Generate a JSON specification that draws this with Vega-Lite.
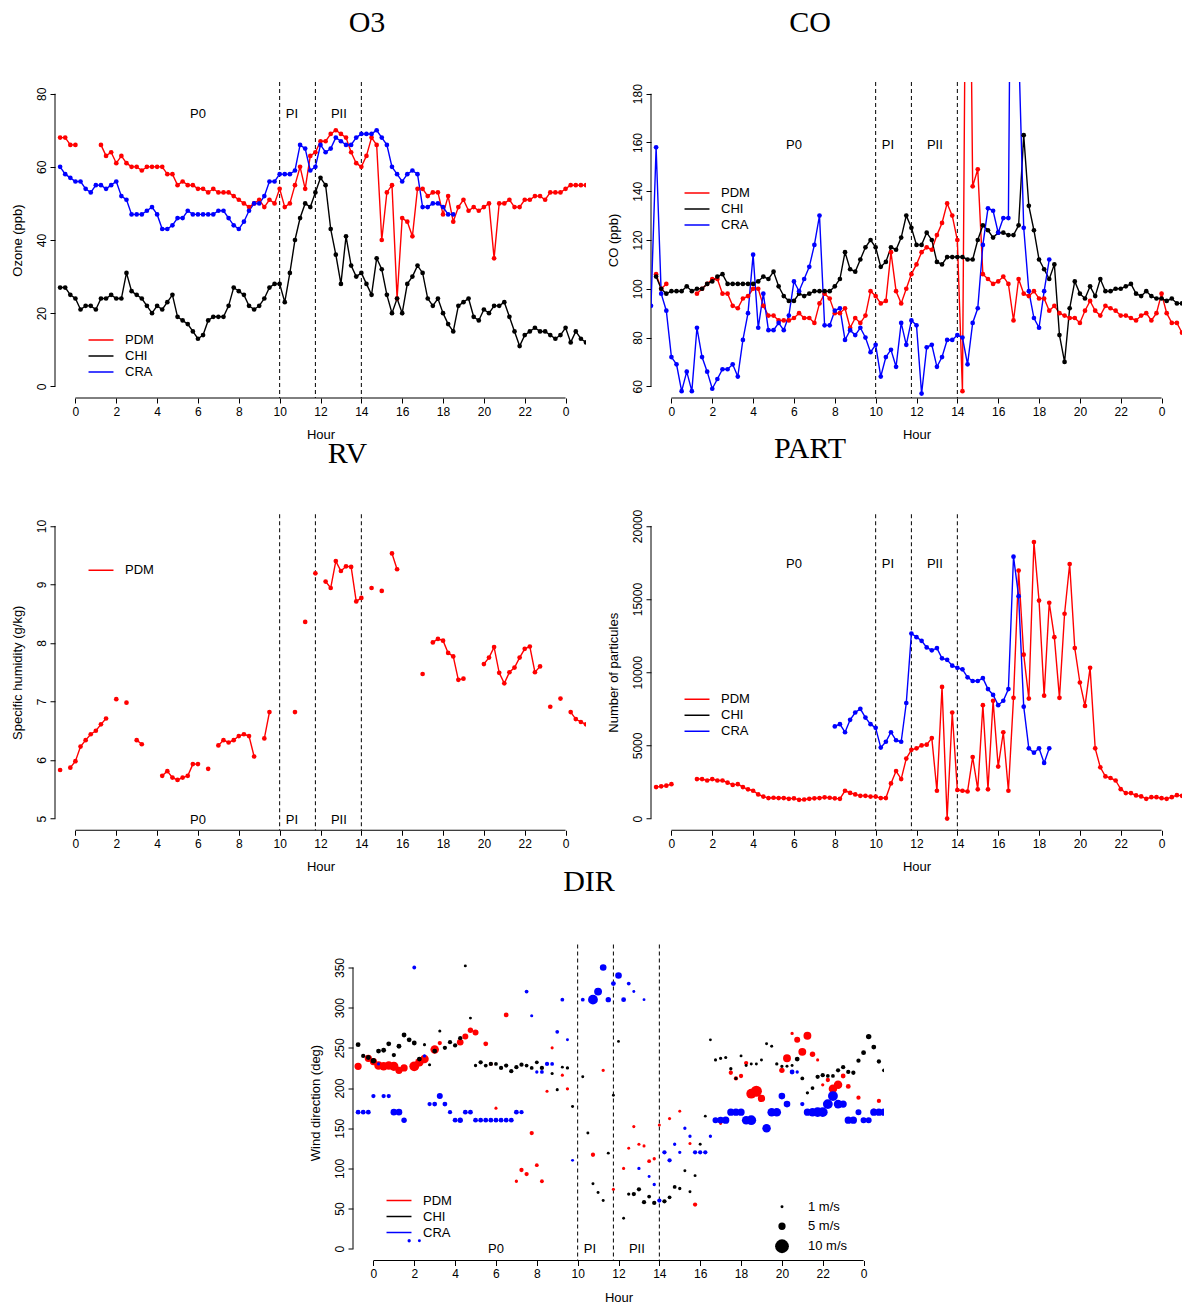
{
"$schema": "https://vega.github.io/schema/vega-lite/v6.json",
"background": "white",
"padding": {"left": 11, "top": 7, "right": 0, "bottom": 0},
"config": {
  "view": {"stroke": null},
  "font": "Liberation Sans",
  "mark": {"invalid": "break-paths-filter-domains"},
  "axis": {"grid": false, "domain": false, "tickColor": "#000", "tickSize": 5, "tickWidth": 1, "labelFont": "Liberation Sans", "labelFontSize": 12, "labelColor": "#000", "titleFont": "Liberation Sans", "titleFontSize": 13, "titleFontWeight": "normal", "titleColor": "#000", "labelFlush": false, "labelOverlap": false},
  "axisX": {"labelPadding": 3, "titleY": 40.5, "titleBaseline": "alphabetic"},
  "axisY": {"labelAngle": 270, "labelAlign": "center", "labelBaseline": "alphabetic", "labelPadding": 4.5, "titleX": -33.5, "titleBaseline": "alphabetic", "titleAngle": 270},
  "legend": {"orient": "none", "padding": 0, "labelFont": "Liberation Sans", "labelFontSize": 13, "labelColor": "#000", "symbolType": "M-1.56,0H1.56", "symbolSize": 256, "symbolStrokeWidth": 1.5, "labelOffset": 15, "rowPadding": 0, "symbolOpacity": 1},
  "title": {"font": "Liberation Serif", "fontSize": 30, "fontWeight": "normal", "frame": "group", "anchor": "middle", "baseline": "alphabetic", "color": "#000"},
  "text": {"font": "Liberation Sans", "fontSize": 13, "color": "#000"}
},
"datasets": {
  "per": [{"h": 10}, {"h": 11.75}, {"h": 14}],
  "lab": [{"h": 6, "t": "P0"}, {"h": 10.6, "t": "PI"}, {"h": 12.9, "t": "PII"}],
  "o3": [
{"h":-0.75,"PDM":68,"CHI":27,"CRA":60},{"h":-0.5,"PDM":68,"CHI":27,"CRA":58},{"h":-0.25,"PDM":66,"CHI":25,"CRA":57},{"h":0,"PDM":66,"CHI":24,"CRA":56},
{"h":0.25,"PDM":null,"CHI":21,"CRA":56},{"h":0.5,"PDM":null,"CHI":22,"CRA":54},{"h":0.75,"PDM":null,"CHI":22,"CRA":53},{"h":1,"PDM":null,"CHI":21,"CRA":55},
{"h":1.25,"PDM":66,"CHI":24,"CRA":55},{"h":1.5,"PDM":63,"CHI":24,"CRA":54},{"h":1.75,"PDM":64,"CHI":25,"CRA":55},{"h":2,"PDM":61,"CHI":24,"CRA":56},
{"h":2.25,"PDM":63,"CHI":24,"CRA":52},{"h":2.5,"PDM":61,"CHI":31,"CRA":51},{"h":2.75,"PDM":60,"CHI":26,"CRA":47},{"h":3,"PDM":60,"CHI":25,"CRA":47},
{"h":3.25,"PDM":59,"CHI":24,"CRA":47},{"h":3.5,"PDM":60,"CHI":22,"CRA":48},{"h":3.75,"PDM":60,"CHI":20,"CRA":49},{"h":4,"PDM":60,"CHI":22,"CRA":47},
{"h":4.25,"PDM":60,"CHI":21,"CRA":43},{"h":4.5,"PDM":58,"CHI":23,"CRA":43},{"h":4.75,"PDM":58,"CHI":25,"CRA":44},{"h":5,"PDM":55,"CHI":19,"CRA":46},
{"h":5.25,"PDM":56,"CHI":18,"CRA":46},{"h":5.5,"PDM":55,"CHI":17,"CRA":48},{"h":5.75,"PDM":55,"CHI":15,"CRA":47},{"h":6,"PDM":54,"CHI":13,"CRA":47},
{"h":6.25,"PDM":54,"CHI":14,"CRA":47},{"h":6.5,"PDM":53,"CHI":18,"CRA":47},{"h":6.75,"PDM":54,"CHI":19,"CRA":47},{"h":7,"PDM":53,"CHI":19,"CRA":48},
{"h":7.25,"PDM":53,"CHI":19,"CRA":48},{"h":7.5,"PDM":53,"CHI":22,"CRA":46},{"h":7.75,"PDM":52,"CHI":27,"CRA":44},{"h":8,"PDM":51,"CHI":26,"CRA":43},
{"h":8.25,"PDM":50,"CHI":25,"CRA":45},{"h":8.5,"PDM":49,"CHI":22,"CRA":48},{"h":8.75,"PDM":50,"CHI":21,"CRA":50},{"h":9,"PDM":51,"CHI":22,"CRA":50},
{"h":9.25,"PDM":49,"CHI":24,"CRA":52},{"h":9.5,"PDM":51,"CHI":27,"CRA":56},{"h":9.75,"PDM":50,"CHI":28,"CRA":56},{"h":10,"PDM":54,"CHI":28,"CRA":58},
{"h":10.25,"PDM":49,"CHI":23,"CRA":58},{"h":10.5,"PDM":50,"CHI":31,"CRA":58},{"h":10.75,"PDM":55,"CHI":40,"CRA":59},{"h":11,"PDM":60,"CHI":46,"CRA":66},
{"h":11.25,"PDM":54,"CHI":50,"CRA":65},{"h":11.5,"PDM":63,"CHI":49,"CRA":59},{"h":11.75,"PDM":64,"CHI":53,"CRA":60},{"h":12,"PDM":67,"CHI":57,"CRA":66},
{"h":12.25,"PDM":67,"CHI":55,"CRA":64},{"h":12.5,"PDM":69,"CHI":43,"CRA":65},{"h":12.75,"PDM":70,"CHI":36,"CRA":68},{"h":13,"PDM":69,"CHI":28,"CRA":67},
{"h":13.25,"PDM":68,"CHI":41,"CRA":66},{"h":13.5,"PDM":64,"CHI":33,"CRA":66},{"h":13.75,"PDM":61,"CHI":30,"CRA":68},{"h":14,"PDM":60,"CHI":31,"CRA":69},
{"h":14.25,"PDM":63,"CHI":28,"CRA":69},{"h":14.5,"PDM":68,"CHI":25,"CRA":69},{"h":14.75,"PDM":66,"CHI":35,"CRA":70},{"h":15,"PDM":40,"CHI":32,"CRA":68},
{"h":15.25,"PDM":53,"CHI":25,"CRA":66},{"h":15.5,"PDM":55,"CHI":20,"CRA":60},{"h":15.75,"PDM":24,"CHI":24,"CRA":58},{"h":16,"PDM":46,"CHI":20,"CRA":56},
{"h":16.25,"PDM":45,"CHI":28,"CRA":58},{"h":16.5,"PDM":41,"CHI":30,"CRA":59},{"h":16.75,"PDM":54,"CHI":33,"CRA":58},{"h":17,"PDM":54,"CHI":31,"CRA":49},
{"h":17.25,"PDM":52,"CHI":24,"CRA":49},{"h":17.5,"PDM":53,"CHI":22,"CRA":50},{"h":17.75,"PDM":53,"CHI":24,"CRA":50},{"h":18,"PDM":47,"CHI":20,"CRA":49},
{"h":18.25,"PDM":52,"CHI":17,"CRA":47},{"h":18.5,"PDM":45,"CHI":15,"CRA":47},{"h":18.75,"PDM":49,"CHI":22,"CRA":null},{"h":19,"PDM":51,"CHI":23,"CRA":null},
{"h":19.25,"PDM":48,"CHI":24,"CRA":null},{"h":19.5,"PDM":49,"CHI":19,"CRA":null},{"h":19.75,"PDM":48,"CHI":18,"CRA":null},{"h":20,"PDM":49,"CHI":21,"CRA":null},
{"h":20.25,"PDM":50,"CHI":20,"CRA":null},{"h":20.5,"PDM":35,"CHI":22,"CRA":null},{"h":20.75,"PDM":50,"CHI":22,"CRA":null},{"h":21,"PDM":50,"CHI":23,"CRA":null},
{"h":21.25,"PDM":51,"CHI":19,"CRA":null},{"h":21.5,"PDM":49,"CHI":15,"CRA":null},{"h":21.75,"PDM":49,"CHI":11,"CRA":null},{"h":22,"PDM":51,"CHI":14,"CRA":null},
{"h":22.25,"PDM":51,"CHI":15,"CRA":null},{"h":22.5,"PDM":52,"CHI":16,"CRA":null},{"h":22.75,"PDM":52,"CHI":15,"CRA":null},{"h":23,"PDM":51,"CHI":15,"CRA":null},
{"h":23.25,"PDM":53,"CHI":14,"CRA":null},{"h":23.5,"PDM":53,"CHI":13,"CRA":null},{"h":23.75,"PDM":53,"CHI":14,"CRA":null},{"h":24,"PDM":54,"CHI":16,"CRA":null},
{"h":24.25,"PDM":55,"CHI":12,"CRA":null},{"h":24.5,"PDM":55,"CHI":15,"CRA":null},{"h":24.75,"PDM":55,"CHI":13,"CRA":null},{"h":25,"PDM":55,"CHI":12,"CRA":null}
  ],
  "co": [
{"h":-1,"PDM":null,"CHI":null,"CRA":93},{"h":-0.75,"PDM":106,"CHI":105,"CRA":158},{"h":-0.5,"PDM":100,"CHI":100,"CRA":98},{"h":-0.25,"PDM":102,"CHI":98,"CRA":91},
{"h":0,"PDM":null,"CHI":99,"CRA":72},{"h":0.25,"PDM":null,"CHI":99,"CRA":69},{"h":0.5,"PDM":null,"CHI":99,"CRA":58},{"h":0.75,"PDM":null,"CHI":101,"CRA":66},
{"h":1,"PDM":null,"CHI":99,"CRA":58},{"h":1.25,"PDM":98,"CHI":100,"CRA":84},{"h":1.5,"PDM":100,"CHI":100,"CRA":72},{"h":1.75,"PDM":102,"CHI":102,"CRA":66},
{"h":2,"PDM":104,"CHI":103,"CRA":59},{"h":2.25,"PDM":104,"CHI":105,"CRA":63},{"h":2.5,"PDM":98,"CHI":106,"CRA":67},{"h":2.75,"PDM":98,"CHI":102,"CRA":67},
{"h":3,"PDM":93,"CHI":102,"CRA":69},{"h":3.25,"PDM":92,"CHI":102,"CRA":64},{"h":3.5,"PDM":96,"CHI":102,"CRA":79},{"h":3.75,"PDM":97,"CHI":102,"CRA":90},
{"h":4,"PDM":100,"CHI":102,"CRA":114},{"h":4.25,"PDM":100,"CHI":103,"CRA":84},{"h":4.5,"PDM":93,"CHI":105,"CRA":98},{"h":4.75,"PDM":89,"CHI":104,"CRA":83},
{"h":5,"PDM":89,"CHI":107,"CRA":83},{"h":5.25,"PDM":87,"CHI":101,"CRA":86},{"h":5.5,"PDM":87,"CHI":97,"CRA":83},{"h":5.75,"PDM":87,"CHI":95,"CRA":89},
{"h":6,"PDM":88,"CHI":95,"CRA":103},{"h":6.25,"PDM":90,"CHI":98,"CRA":99},{"h":6.5,"PDM":88,"CHI":97,"CRA":104},{"h":6.75,"PDM":88,"CHI":98,"CRA":109},
{"h":7,"PDM":86,"CHI":99,"CRA":118},{"h":7.25,"PDM":94,"CHI":99,"CRA":130},{"h":7.5,"PDM":98,"CHI":99,"CRA":85},{"h":7.75,"PDM":96,"CHI":99,"CRA":85},
{"h":8,"PDM":90,"CHI":101,"CRA":91},{"h":8.25,"PDM":90,"CHI":104,"CRA":92},{"h":8.5,"PDM":92,"CHI":115,"CRA":79},{"h":8.75,"PDM":84,"CHI":108,"CRA":83},
{"h":9,"PDM":88,"CHI":107,"CRA":81},{"h":9.25,"PDM":86,"CHI":112,"CRA":84},{"h":9.5,"PDM":89,"CHI":117,"CRA":80},{"h":9.75,"PDM":99,"CHI":120,"CRA":74},
{"h":10,"PDM":97,"CHI":117,"CRA":77},{"h":10.25,"PDM":94,"CHI":109,"CRA":64},{"h":10.5,"PDM":95,"CHI":111,"CRA":72},{"h":10.75,"PDM":115,"CHI":117,"CRA":75},
{"h":11,"PDM":99,"CHI":116,"CRA":68},{"h":11.25,"PDM":94,"CHI":121,"CRA":86},{"h":11.5,"PDM":100,"CHI":130,"CRA":77},{"h":11.75,"PDM":106,"CHI":125,"CRA":87},
{"h":12,"PDM":110,"CHI":118,"CRA":85},{"h":12.25,"PDM":115,"CHI":118,"CRA":57},{"h":12.5,"PDM":117,"CHI":123,"CRA":76},{"h":12.75,"PDM":116,"CHI":120,"CRA":77},
{"h":13,"PDM":122,"CHI":111,"CRA":68},{"h":13.25,"PDM":127,"CHI":110,"CRA":72},{"h":13.5,"PDM":135,"CHI":113,"CRA":79},{"h":13.75,"PDM":130,"CHI":113,"CRA":79},
{"h":14,"PDM":120,"CHI":113,"CRA":81},{"h":14.25,"PDM":58,"CHI":113,"CRA":80},{"h":14.5,"PDM":350,"CHI":112,"CRA":69},{"h":14.75,"PDM":142,"CHI":112,"CRA":86},
{"h":15,"PDM":149,"CHI":120,"CRA":92},{"h":15.25,"PDM":106,"CHI":126,"CRA":118},{"h":15.5,"PDM":104,"CHI":124,"CRA":133},{"h":15.75,"PDM":102,"CHI":121,"CRA":132},
{"h":16,"PDM":103,"CHI":123,"CRA":123},{"h":16.25,"PDM":105,"CHI":123,"CRA":129},{"h":16.5,"PDM":102,"CHI":122,"CRA":129},{"h":16.75,"PDM":87,"CHI":122,"CRA":400},
{"h":17,"PDM":104,"CHI":126,"CRA":200},{"h":17.25,"PDM":98,"CHI":163,"CRA":125},{"h":17.5,"PDM":97,"CHI":134,"CRA":99},{"h":17.75,"PDM":99,"CHI":124,"CRA":88},
{"h":18,"PDM":96,"CHI":112,"CRA":84},{"h":18.25,"PDM":96,"CHI":108,"CRA":99},{"h":18.5,"PDM":91,"CHI":104,"CRA":112},{"h":18.75,"PDM":93,"CHI":110,"CRA":null},
{"h":19,"PDM":90,"CHI":81,"CRA":null},{"h":19.25,"PDM":89,"CHI":70,"CRA":null},{"h":19.5,"PDM":88,"CHI":92,"CRA":null},{"h":19.75,"PDM":88,"CHI":103,"CRA":null},
{"h":20,"PDM":86,"CHI":98,"CRA":null},{"h":20.25,"PDM":91,"CHI":96,"CRA":null},{"h":20.5,"PDM":95,"CHI":101,"CRA":null},{"h":20.75,"PDM":91,"CHI":97,"CRA":null},
{"h":21,"PDM":89,"CHI":104,"CRA":null},{"h":21.25,"PDM":93,"CHI":99,"CRA":null},{"h":21.5,"PDM":92,"CHI":99,"CRA":null},{"h":21.75,"PDM":91,"CHI":100,"CRA":null},
{"h":22,"PDM":89,"CHI":100,"CRA":null},{"h":22.25,"PDM":89,"CHI":101,"CRA":null},{"h":22.5,"PDM":88,"CHI":102,"CRA":null},{"h":22.75,"PDM":87,"CHI":98,"CRA":null},
{"h":23,"PDM":89,"CHI":97,"CRA":null},{"h":23.25,"PDM":90,"CHI":99,"CRA":null},{"h":23.5,"PDM":87,"CHI":97,"CRA":null},{"h":23.75,"PDM":90,"CHI":96,"CRA":null},
{"h":24,"PDM":98,"CHI":96,"CRA":null},{"h":24.25,"PDM":90,"CHI":95,"CRA":null},{"h":24.5,"PDM":86,"CHI":96,"CRA":null},{"h":24.75,"PDM":86,"CHI":94,"CRA":null},
{"h":25,"PDM":82,"CHI":94,"CRA":null}
  ],
  "rv": [
{"h":-0.75,"PDM":5.83},{"h":-0.5,"PDM":null},{"h":-0.25,"PDM":5.87},{"h":0,"PDM":5.98},{"h":0.25,"PDM":6.23},{"h":0.5,"PDM":6.34},{"h":0.75,"PDM":6.44},{"h":1,"PDM":6.5},
{"h":1.25,"PDM":6.61},{"h":1.5,"PDM":6.71},{"h":1.75,"PDM":null},{"h":2,"PDM":7.04},{"h":2.25,"PDM":null},{"h":2.5,"PDM":6.98},{"h":2.75,"PDM":null},{"h":3,"PDM":6.34},
{"h":3.25,"PDM":6.27},{"h":3.5,"PDM":null},{"h":4.25,"PDM":5.73},{"h":4.5,"PDM":5.81},{"h":4.75,"PDM":5.7},{"h":5,"PDM":5.66},{"h":5.25,"PDM":5.7},{"h":5.5,"PDM":5.73},
{"h":5.75,"PDM":5.93},{"h":6,"PDM":5.93},{"h":6.25,"PDM":null},{"h":6.5,"PDM":5.85},{"h":6.75,"PDM":null},{"h":7,"PDM":6.25},{"h":7.25,"PDM":6.34},{"h":7.5,"PDM":6.3},
{"h":7.75,"PDM":6.34},{"h":8,"PDM":6.41},{"h":8.25,"PDM":6.44},{"h":8.5,"PDM":6.41},{"h":8.75,"PDM":6.06},{"h":9,"PDM":null},{"h":9.25,"PDM":6.37},{"h":9.5,"PDM":6.82},
{"h":9.75,"PDM":null},{"h":10.75,"PDM":6.82},{"h":11,"PDM":null},{"h":11.25,"PDM":8.36},{"h":11.5,"PDM":null},{"h":11.75,"PDM":9.19},{"h":12,"PDM":null},{"h":12.25,"PDM":9.05},
{"h":12.5,"PDM":8.94},{"h":12.75,"PDM":9.4},{"h":13,"PDM":9.23},{"h":13.25,"PDM":9.31},{"h":13.5,"PDM":9.3},{"h":13.75,"PDM":8.71},{"h":14,"PDM":8.77},{"h":14.25,"PDM":null},
{"h":14.5,"PDM":8.94},{"h":14.75,"PDM":null},{"h":15,"PDM":8.89},{"h":15.25,"PDM":null},{"h":15.5,"PDM":9.53},{"h":15.75,"PDM":9.26},{"h":16,"PDM":null},{"h":17,"PDM":7.47},
{"h":17.25,"PDM":null},{"h":17.5,"PDM":8.01},{"h":17.75,"PDM":8.07},{"h":18,"PDM":8.04},{"h":18.25,"PDM":7.83},{"h":18.5,"PDM":7.77},{"h":18.75,"PDM":7.37},{"h":19,"PDM":7.39},
{"h":19.25,"PDM":null},{"h":20,"PDM":7.64},{"h":20.25,"PDM":7.75},{"h":20.5,"PDM":7.93},{"h":20.75,"PDM":7.49},{"h":21,"PDM":7.31},{"h":21.25,"PDM":7.5},{"h":21.5,"PDM":7.58},
{"h":21.75,"PDM":7.75},{"h":22,"PDM":7.9},{"h":22.25,"PDM":7.94},{"h":22.5,"PDM":7.5},{"h":22.75,"PDM":7.6},{"h":23,"PDM":null},{"h":23.25,"PDM":6.91},{"h":23.5,"PDM":null},
{"h":23.75,"PDM":7.05},{"h":24,"PDM":null},{"h":24.25,"PDM":6.82},{"h":24.5,"PDM":6.7},{"h":24.75,"PDM":6.65},{"h":25,"PDM":6.61}
  ],
  "part": [
{"h":-0.75,"PDM":2150,"CRA":null},{"h":-0.5,"PDM":2200,"CRA":null},{"h":-0.25,"PDM":2250,"CRA":null},{"h":0,"PDM":2350,"CRA":null},{"h":0.25,"PDM":null,"CRA":null},
{"h":1.25,"PDM":2700,"CRA":null},{"h":1.5,"PDM":2700,"CRA":null},{"h":1.75,"PDM":2600,"CRA":null},{"h":2,"PDM":2700,"CRA":null},{"h":2.25,"PDM":2600,"CRA":null},
{"h":2.5,"PDM":2600,"CRA":null},{"h":2.75,"PDM":2450,"CRA":null},{"h":3,"PDM":2300,"CRA":null},{"h":3.25,"PDM":2350,"CRA":null},{"h":3.5,"PDM":2150,"CRA":null},
{"h":3.75,"PDM":2000,"CRA":null},{"h":4,"PDM":1900,"CRA":null},{"h":4.25,"PDM":1650,"CRA":null},{"h":4.5,"PDM":1500,"CRA":null},{"h":4.75,"PDM":1400,"CRA":null},
{"h":5,"PDM":1420,"CRA":null},{"h":5.25,"PDM":1400,"CRA":null},{"h":5.5,"PDM":1400,"CRA":null},{"h":5.75,"PDM":1350,"CRA":null},{"h":6,"PDM":1380,"CRA":null},
{"h":6.25,"PDM":1280,"CRA":null},{"h":6.5,"PDM":1300,"CRA":null},{"h":6.75,"PDM":1350,"CRA":null},{"h":7,"PDM":1380,"CRA":null},{"h":7.25,"PDM":1400,"CRA":null},
{"h":7.5,"PDM":1450,"CRA":null},{"h":7.75,"PDM":1420,"CRA":null},{"h":8,"PDM":1380,"CRA":6300},{"h":8.25,"PDM":1350,"CRA":6450},{"h":8.5,"PDM":1900,"CRA":5900},
{"h":8.75,"PDM":1750,"CRA":6750},{"h":9,"PDM":1650,"CRA":7250},{"h":9.25,"PDM":1550,"CRA":7500},{"h":9.5,"PDM":1550,"CRA":6900},{"h":9.75,"PDM":1500,"CRA":6450},
{"h":10,"PDM":1500,"CRA":6200},{"h":10.25,"PDM":1400,"CRA":4850},{"h":10.5,"PDM":1400,"CRA":5250},{"h":10.75,"PDM":2400,"CRA":5900},{"h":11,"PDM":3250,"CRA":5350},
{"h":11.25,"PDM":2700,"CRA":5250},{"h":11.5,"PDM":4100,"CRA":7900},{"h":11.75,"PDM":4700,"CRA":12650},{"h":12,"PDM":4800,"CRA":12400},{"h":12.25,"PDM":5000,"CRA":12150},
{"h":12.5,"PDM":5050,"CRA":11700},{"h":12.75,"PDM":5500,"CRA":11500},{"h":13,"PDM":1900,"CRA":11650},{"h":13.25,"PDM":9000,"CRA":10950},{"h":13.5,"PDM":0,"CRA":10850},
{"h":13.75,"PDM":7250,"CRA":10450},{"h":14,"PDM":1950,"CRA":10300},{"h":14.25,"PDM":1900,"CRA":10200},{"h":14.5,"PDM":1850,"CRA":9650},{"h":14.75,"PDM":4200,"CRA":9400},
{"h":15,"PDM":2000,"CRA":9400},{"h":15.25,"PDM":7750,"CRA":9600},{"h":15.5,"PDM":2000,"CRA":8850},{"h":15.75,"PDM":8050,"CRA":8450},{"h":16,"PDM":3550,"CRA":7750},
{"h":16.25,"PDM":5900,"CRA":8050},{"h":16.5,"PDM":1900,"CRA":8850},{"h":16.75,"PDM":8250,"CRA":17900},{"h":17,"PDM":16950,"CRA":15200},{"h":17.25,"PDM":11200,"CRA":7650},
{"h":17.5,"PDM":8200,"CRA":4800},{"h":17.75,"PDM":18900,"CRA":4500},{"h":18,"PDM":14900,"CRA":4800},{"h":18.25,"PDM":8400,"CRA":3800},{"h":18.5,"PDM":14750,"CRA":4800},
{"h":18.75,"PDM":12400,"CRA":null},{"h":19,"PDM":8250,"CRA":null},{"h":19.25,"PDM":14000,"CRA":null},{"h":19.5,"PDM":17400,"CRA":null},{"h":19.75,"PDM":11650,"CRA":null},
{"h":20,"PDM":9300,"CRA":null},{"h":20.25,"PDM":7700,"CRA":null},{"h":20.5,"PDM":10300,"CRA":null},{"h":20.75,"PDM":4800,"CRA":null},{"h":21,"PDM":3500,"CRA":null},
{"h":21.25,"PDM":2880,"CRA":null},{"h":21.5,"PDM":2770,"CRA":null},{"h":21.75,"PDM":2600,"CRA":null},{"h":22,"PDM":2010,"CRA":null},{"h":22.25,"PDM":1740,"CRA":null},
{"h":22.5,"PDM":1740,"CRA":null},{"h":22.75,"PDM":1580,"CRA":null},{"h":23,"PDM":1510,"CRA":null},{"h":23.25,"PDM":1350,"CRA":null},{"h":23.5,"PDM":1460,"CRA":null},
{"h":23.75,"PDM":1460,"CRA":null},{"h":24,"PDM":1390,"CRA":null},{"h":24.25,"PDM":1350,"CRA":null},{"h":24.5,"PDM":1460,"CRA":null},{"h":24.75,"PDM":1600,"CRA":null},
{"h":25,"PDM":1550,"CRA":null}
  ],
  "dir": [
{"h":-0.75,"s":"PDM","d":227,"w":5},{"h":-0.25,"s":"PDM","d":237,"w":5},{"h":0,"s":"PDM","d":233,"w":5},{"h":0.25,"s":"PDM","d":228,"w":6},{"h":0.5,"s":"PDM","d":227,"w":6},
{"h":0.75,"s":"PDM","d":228,"w":6},{"h":1,"s":"PDM","d":227,"w":6.5},{"h":1.25,"s":"PDM","d":222,"w":5},{"h":1.5,"s":"PDM","d":225,"w":5},{"h":2,"s":"PDM","d":227,"w":7},
{"h":2.25,"s":"PDM","d":232,"w":6},{"h":2.5,"s":"PDM","d":236,"w":6},{"h":3,"s":"PDM","d":248,"w":6},{"h":3.25,"s":"PDM","d":256,"w":2.5},{"h":4.25,"s":"PDM","d":257,"w":4.5},
{"h":4.5,"s":"PDM","d":264,"w":4},{"h":4.75,"s":"PDM","d":272,"w":3.5},{"h":5,"s":"PDM","d":269,"w":4},{"h":5.5,"s":"PDM","d":255,"w":3},{"h":5.75,"s":"PDM","d":230,"w":2},
{"h":6,"s":"PDM","d":175,"w":1.2},{"h":6.5,"s":"PDM","d":291,"w":3},{"h":7,"s":"PDM","d":84,"w":1.5},{"h":7.25,"s":"PDM","d":98,"w":2.5},{"h":7.5,"s":"PDM","d":93,"w":2.5},
{"h":7.75,"s":"PDM","d":144,"w":2.5},{"h":8,"s":"PDM","d":104,"w":2},{"h":8.25,"s":"PDM","d":84,"w":2},{"h":8.5,"s":"PDM","d":196,"w":1.2},{"h":8.75,"s":"PDM","d":250,"w":1.2},
{"h":9.25,"s":"PDM","d":216,"w":1.2},{"h":9.5,"s":"PDM","d":199,"w":1.5},{"h":10.75,"s":"PDM","d":117,"w":2.5},{"h":11.25,"s":"PDM","d":222,"w":1.5},{"h":11.75,"s":"PDM","d":74,"w":1.2},
{"h":12.25,"s":"PDM","d":100,"w":1.2},{"h":12.5,"s":"PDM","d":125,"w":1},{"h":12.75,"s":"PDM","d":152,"w":1.2},{"h":13,"s":"PDM","d":130,"w":1.2},{"h":13.25,"s":"PDM","d":128,"w":1.2},
{"h":13.5,"s":"PDM","d":109,"w":2},{"h":13.75,"s":"PDM","d":112,"w":1.5},{"h":14,"s":"PDM","d":154,"w":1.2},{"h":14.5,"s":"PDM","d":162,"w":1.2},{"h":15,"s":"PDM","d":171,"w":1},
{"h":15.5,"s":"PDM","d":131,"w":1.2},{"h":15.75,"s":"PDM","d":55,"w":2.5},{"h":17,"s":"PDM","d":156,"w":1},{"h":17.5,"s":"PDM","d":219,"w":2.5},{"h":17.75,"s":"PDM","d":212,"w":2.5},
{"h":18,"s":"PDM","d":215,"w":2.5},{"h":18.25,"s":"PDM","d":231,"w":2.5},{"h":18.5,"s":"PDM","d":193,"w":7},{"h":18.75,"s":"PDM","d":196,"w":8},{"h":19,"s":"PDM","d":187,"w":5},
{"h":20,"s":"PDM","d":222,"w":3.5},{"h":20.25,"s":"PDM","d":237,"w":5.5},{"h":20.5,"s":"PDM","d":268,"w":1.5},{"h":20.75,"s":"PDM","d":260,"w":4},{"h":21,"s":"PDM","d":245,"w":5.5},
{"h":21.25,"s":"PDM","d":265,"w":5.5},{"h":21.5,"s":"PDM","d":242,"w":3.5},{"h":21.75,"s":"PDM","d":235,"w":1.2},{"h":22,"s":"PDM","d":204,"w":1.5},{"h":22.25,"s":"PDM","d":210,"w":2.5},
{"h":22.5,"s":"PDM","d":199,"w":6},{"h":22.75,"s":"PDM","d":204,"w":6},{"h":23,"s":"PDM","d":215,"w":3},{"h":23.25,"s":"PDM","d":202,"w":3},{"h":23.75,"s":"PDM","d":188,"w":2.5},
{"h":24.5,"s":"PDM","d":172,"w":2.5},{"h":24.75,"s":"PDM","d":184,"w":2.5},
{"h":-0.75,"s":"CHI","d":254,"w":3},{"h":-0.5,"s":"CHI","d":240,"w":2.5},{"h":-0.25,"s":"CHI","d":238,"w":3},{"h":0,"s":"CHI","d":234,"w":3.5},{"h":0.25,"s":"CHI","d":246,"w":3},
{"h":0.5,"s":"CHI","d":247,"w":3},{"h":0.75,"s":"CHI","d":255,"w":3},{"h":1,"s":"CHI","d":241,"w":2.5},{"h":1.25,"s":"CHI","d":252,"w":3},{"h":1.5,"s":"CHI","d":266,"w":3},
{"h":1.75,"s":"CHI","d":260,"w":3},{"h":2,"s":"CHI","d":256,"w":3},{"h":2.25,"s":"CHI","d":236,"w":3},{"h":2.5,"s":"CHI","d":254,"w":1.2},{"h":2.75,"s":"CHI","d":229,"w":1.2},
{"h":3,"s":"CHI","d":246,"w":3},{"h":3.25,"s":"CHI","d":271,"w":1.2},{"h":3.5,"s":"CHI","d":250,"w":2.5},{"h":3.75,"s":"CHI","d":257,"w":2.5},{"h":4,"s":"CHI","d":253,"w":2.5},
{"h":4.25,"s":"CHI","d":262,"w":2.5},{"h":4.5,"s":"CHI","d":352,"w":1},{"h":4.75,"s":"CHI","d":287,"w":1},{"h":5,"s":"CHI","d":228,"w":1.5},{"h":5.25,"s":"CHI","d":232,"w":2.5},
{"h":5.5,"s":"CHI","d":228,"w":2},{"h":5.75,"s":"CHI","d":230,"w":2.5},{"h":6,"s":"CHI","d":230,"w":2},{"h":6.25,"s":"CHI","d":225,"w":2.5},{"h":6.5,"s":"CHI","d":228,"w":2.5},
{"h":6.75,"s":"CHI","d":221,"w":2.5},{"h":7,"s":"CHI","d":226,"w":2.5},{"h":7.25,"s":"CHI","d":229,"w":2.5},{"h":7.5,"s":"CHI","d":228,"w":2},{"h":7.75,"s":"CHI","d":225,"w":2},
{"h":8,"s":"CHI","d":232,"w":2},{"h":8.25,"s":"CHI","d":225,"w":2.5},{"h":8.75,"s":"CHI","d":218,"w":1.2},{"h":9,"s":"CHI","d":198,"w":1.2},{"h":9.25,"s":"CHI","d":226,"w":1},
{"h":9.5,"s":"CHI","d":225,"w":1.5},{"h":9.75,"s":"CHI","d":177,"w":1},{"h":10.25,"s":"CHI","d":214,"w":1},{"h":10.5,"s":"CHI","d":144,"w":1},{"h":10.75,"s":"CHI","d":81,"w":1},
{"h":11,"s":"CHI","d":70,"w":1},{"h":11.25,"s":"CHI","d":60,"w":1},{"h":11.5,"s":"CHI","d":119,"w":1},{"h":11.75,"s":"CHI","d":191,"w":0.8},{"h":12,"s":"CHI","d":258,"w":0.8},
{"h":12.25,"s":"CHI","d":38,"w":0.8},{"h":12.5,"s":"CHI","d":68,"w":1.5},{"h":12.75,"s":"CHI","d":68,"w":2.5},{"h":13,"s":"CHI","d":74,"w":2.5},{"h":13.25,"s":"CHI","d":58,"w":2.5},
{"h":13.5,"s":"CHI","d":65,"w":2},{"h":13.75,"s":"CHI","d":57,"w":2.5},{"h":14.25,"s":"CHI","d":59,"w":2.5},{"h":14.5,"s":"CHI","d":64,"w":2},{"h":14.75,"s":"CHI","d":77,"w":2},
{"h":15,"s":"CHI","d":75,"w":1.5},{"h":15.25,"s":"CHI","d":97,"w":1},{"h":15.5,"s":"CHI","d":71,"w":1},{"h":15.75,"s":"CHI","d":91,"w":1},{"h":16,"s":"CHI","d":130,"w":1},
{"h":16.25,"s":"CHI","d":165,"w":0.8},{"h":16.5,"s":"CHI","d":260,"w":0.8},{"h":16.75,"s":"CHI","d":235,"w":1.2},{"h":17,"s":"CHI","d":237,"w":1.5},{"h":17.25,"s":"CHI","d":238,"w":1.2},
{"h":17.5,"s":"CHI","d":224,"w":1.5},{"h":17.75,"s":"CHI","d":212,"w":1.5},{"h":18,"s":"CHI","d":240,"w":1},{"h":18.25,"s":"CHI","d":228,"w":1},{"h":18.5,"s":"CHI","d":230,"w":1},
{"h":18.75,"s":"CHI","d":230,"w":1},{"h":19,"s":"CHI","d":235,"w":1},{"h":19.25,"s":"CHI","d":255,"w":1},{"h":19.5,"s":"CHI","d":252,"w":1},{"h":19.75,"s":"CHI","d":230,"w":1.5},
{"h":20,"s":"CHI","d":227,"w":1.5},{"h":20.25,"s":"CHI","d":227,"w":1},{"h":20.5,"s":"CHI","d":228,"w":1},{"h":20.75,"s":"CHI","d":236,"w":3},{"h":21,"s":"CHI","d":212,"w":2},
{"h":21.25,"s":"CHI","d":194,"w":1.5},{"h":21.5,"s":"CHI","d":200,"w":2},{"h":21.75,"s":"CHI","d":214,"w":2.5},{"h":22,"s":"CHI","d":216,"w":2.5},{"h":22.25,"s":"CHI","d":215,"w":2},
{"h":22.5,"s":"CHI","d":215,"w":2},{"h":22.75,"s":"CHI","d":222,"w":2.5},{"h":23,"s":"CHI","d":226,"w":2.5},{"h":23.25,"s":"CHI","d":220,"w":2.5},{"h":23.5,"s":"CHI","d":219,"w":2.5},
{"h":23.75,"s":"CHI","d":234,"w":2.5},{"h":24,"s":"CHI","d":244,"w":3},{"h":24.25,"s":"CHI","d":264,"w":3.5},{"h":24.5,"s":"CHI","d":251,"w":3},{"h":24.75,"s":"CHI","d":233,"w":2.5},
{"h":25,"s":"CHI","d":222,"w":2},
{"h":-0.75,"s":"CRA","d":170,"w":3},{"h":-0.5,"s":"CRA","d":170,"w":3},{"h":-0.25,"s":"CRA","d":170,"w":3},{"h":0,"s":"CRA","d":190,"w":2.5},{"h":0.25,"s":"CRA","d":230,"w":1.2},
{"h":0.5,"s":"CRA","d":190,"w":2.5},{"h":0.75,"s":"CRA","d":190,"w":2.5},{"h":1,"s":"CRA","d":170,"w":4.5},{"h":1.25,"s":"CRA","d":170,"w":4.5},{"h":1.5,"s":"CRA","d":160,"w":3.5},
{"h":1.75,"s":"CRA","d":10,"w":1.5},{"h":2,"s":"CRA","d":350,"w":2},{"h":2.25,"s":"CRA","d":10,"w":1},{"h":2.5,"s":"CRA","d":240,"w":1.5},{"h":2.75,"s":"CRA","d":180,"w":2.5},
{"h":3,"s":"CRA","d":180,"w":3},{"h":3.25,"s":"CRA","d":190,"w":4},{"h":3.5,"s":"CRA","d":180,"w":3},{"h":3.75,"s":"CRA","d":170,"w":2.5},{"h":4,"s":"CRA","d":160,"w":3},
{"h":4.25,"s":"CRA","d":160,"w":3.5},{"h":4.5,"s":"CRA","d":170,"w":3},{"h":4.75,"s":"CRA","d":170,"w":3},{"h":5,"s":"CRA","d":160,"w":3},{"h":5.25,"s":"CRA","d":160,"w":3},
{"h":5.5,"s":"CRA","d":160,"w":3},{"h":5.75,"s":"CRA","d":160,"w":3},{"h":6,"s":"CRA","d":160,"w":3},{"h":6.25,"s":"CRA","d":160,"w":3},{"h":6.5,"s":"CRA","d":160,"w":3},
{"h":6.75,"s":"CRA","d":160,"w":3},{"h":7,"s":"CRA","d":170,"w":3},{"h":7.25,"s":"CRA","d":170,"w":2.5},{"h":7.5,"s":"CRA","d":320,"w":2},{"h":7.75,"s":"CRA","d":290,"w":1.2},
{"h":8,"s":"CRA","d":220,"w":1.5},{"h":8.25,"s":"CRA","d":220,"w":2},{"h":8.5,"s":"CRA","d":230,"w":2.5},{"h":8.75,"s":"CRA","d":230,"w":2},{"h":9,"s":"CRA","d":270,"w":2},
{"h":9.25,"s":"CRA","d":310,"w":2},{"h":9.5,"s":"CRA","d":260,"w":1},{"h":9.75,"s":"CRA","d":110,"w":1},{"h":10.25,"s":"CRA","d":310,"w":2},{"h":10.75,"s":"CRA","d":310,"w":7},
{"h":11,"s":"CRA","d":320,"w":5.5},{"h":11.25,"s":"CRA","d":350,"w":4.5},{"h":11.5,"s":"CRA","d":310,"w":3.5},{"h":11.75,"s":"CRA","d":330,"w":3},{"h":12,"s":"CRA","d":340,"w":4.5},
{"h":12.25,"s":"CRA","d":310,"w":3},{"h":12.5,"s":"CRA","d":330,"w":2},{"h":12.75,"s":"CRA","d":320,"w":1},{"h":13.25,"s":"CRA","d":310,"w":0.8},{"h":13,"s":"CRA","d":100,"w":1.5},
{"h":13.5,"s":"CRA","d":90,"w":1},{"h":13.75,"s":"CRA","d":80,"w":1.5},{"h":14,"s":"CRA","d":60,"w":2.5},{"h":14.25,"s":"CRA","d":120,"w":2.5},{"h":14.5,"s":"CRA","d":110,"w":2.5},
{"h":14.75,"s":"CRA","d":130,"w":1.5},{"h":15,"s":"CRA","d":120,"w":1.5},{"h":15.25,"s":"CRA","d":150,"w":1.5},{"h":15.5,"s":"CRA","d":140,"w":1.5},{"h":15.75,"s":"CRA","d":120,"w":2.5},
{"h":16,"s":"CRA","d":120,"w":2.5},{"h":16.25,"s":"CRA","d":120,"w":2.5},{"h":16.5,"s":"CRA","d":140,"w":1.5},{"h":16.75,"s":"CRA","d":160,"w":4},{"h":17,"s":"CRA","d":160,"w":4.5},
{"h":17.25,"s":"CRA","d":160,"w":5},{"h":17.5,"s":"CRA","d":170,"w":5},{"h":17.75,"s":"CRA","d":170,"w":5},{"h":18,"s":"CRA","d":170,"w":5},{"h":18.25,"s":"CRA","d":160,"w":6},
{"h":18.5,"s":"CRA","d":160,"w":7},{"h":19.25,"s":"CRA","d":150,"w":6},{"h":19.5,"s":"CRA","d":170,"w":6},{"h":19.75,"s":"CRA","d":170,"w":6},{"h":20,"s":"CRA","d":190,"w":4.5},
{"h":20.25,"s":"CRA","d":180,"w":4.5},{"h":20.5,"s":"CRA","d":220,"w":3},{"h":20.75,"s":"CRA","d":220,"w":1.5},{"h":21,"s":"CRA","d":180,"w":2.5},{"h":21.25,"s":"CRA","d":170,"w":5},
{"h":21.5,"s":"CRA","d":170,"w":6},{"h":21.75,"s":"CRA","d":170,"w":7},{"h":22,"s":"CRA","d":170,"w":7},{"h":22.25,"s":"CRA","d":180,"w":7},{"h":22.5,"s":"CRA","d":190,"w":7},
{"h":22.75,"s":"CRA","d":180,"w":6},{"h":23,"s":"CRA","d":180,"w":5},{"h":23.25,"s":"CRA","d":160,"w":5},{"h":23.5,"s":"CRA","d":160,"w":5},{"h":23.75,"s":"CRA","d":170,"w":4},
{"h":24,"s":"CRA","d":160,"w":4},{"h":24.25,"s":"CRA","d":160,"w":4},{"h":24.5,"s":"CRA","d":170,"w":5},{"h":24.75,"s":"CRA","d":170,"w":5},{"h":25,"s":"CRA","d":170,"w":5}
  ]
},
"center": true,
"spacing": -7.75,
"resolve": {"scale": {"x": "independent", "y": "independent", "color": "independent", "size": "independent"}, "legend": {"color": "independent", "size": "independent"}},
"vconcat": [
 {
  "bounds": "flush", "spacing": 65,
  "resolve": {"scale": {"x": "independent", "y": "independent", "color": "independent"}, "legend": {"color": "independent"}},
  "hconcat": [
   {
    "width": 531, "height": 316,
    "title": {"text": "O3", "dx": 46.5, "offset": 44},
    "layer": [
     {"data": {"name": "per"}, "mark": {"type": "rule", "strokeDash": [4, 3], "color": "#000", "strokeWidth": 1},
      "encoding": {"x": {"field": "h", "type": "quantitative", "title": "Hour", "scale": {"domain": [-1, 25], "nice": false, "zero": false}, "axis": {"values": [0,2,4,6,8,10,12,14,16,18,20,22,24], "labelExpr": "'' + (datum.value % 24)"}}}},
     {"data": {"name": "lab"}, "mark": {"type": "text"},
      "encoding": {"x": {"field": "h", "type": "quantitative", "title": "Hour", "scale": {"domain": [-1, 25], "nice": false, "zero": false}},
                   "y": {"datum": 74.4, "type": "quantitative", "title": "Ozone (ppb)", "scale": {"domain": [-3.2, 83.2], "nice": false, "zero": false}},
                   "text": {"field": "t"}}},
     {"data": {"values": [{}]}, "mark": {"type": "rule", "color": "#000", "strokeWidth": 1},
      "encoding": {"x": {"datum": 0, "type": "quantitative", "title": "Hour", "scale": {"domain": [-1, 25], "nice": false, "zero": false}}, "x2": {"datum": 24},
                   "y": {"datum": -3.2, "type": "quantitative", "title": "Ozone (ppb)", "scale": {"domain": [-3.2, 83.2], "nice": false, "zero": false}}}},
     {"data": {"values": [{}]}, "mark": {"type": "rule", "color": "#000", "strokeWidth": 1},
      "encoding": {"x": {"datum": -1, "type": "quantitative", "title": "Hour", "scale": {"domain": [-1, 25], "nice": false, "zero": false}},
                   "y": {"datum": 0, "type": "quantitative", "title": "Ozone (ppb)", "scale": {"domain": [-3.2, 83.2], "nice": false, "zero": false}}, "y2": {"datum": 80}}},
     {"data": {"name": "o3"}, "transform": [{"fold": ["PDM", "CHI", "CRA"], "as": ["s", "v"]}],
      "mark": {"type": "line", "strokeWidth": 1.4, "clip": true},
      "encoding": {"x": {"field": "h", "type": "quantitative", "title": "Hour", "scale": {"domain": [-1, 25], "nice": false, "zero": false}},
                   "y": {"field": "v", "type": "quantitative", "title": "Ozone (ppb)", "scale": {"domain": [-3.2, 83.2], "nice": false, "zero": false}, "axis": {"values": [0, 20, 40, 60, 80]}},
                   "color": {"field": "s", "type": "nominal", "scale": {"domain": ["PDM", "CHI", "CRA"], "range": ["#ff0000", "#000000", "#0000ff"]}, "legend": {"title": null, "legendX": 37, "legendY": 249}}}},
     {"data": {"name": "o3"}, "transform": [{"fold": ["PDM", "CHI", "CRA"], "as": ["s", "v"]}],
      "mark": {"type": "point", "filled": true, "size": 22, "opacity": 1, "clip": true},
      "encoding": {"x": {"field": "h", "type": "quantitative", "title": "Hour", "scale": {"domain": [-1, 25], "nice": false, "zero": false}},
                   "y": {"field": "v", "type": "quantitative", "title": "Ozone (ppb)", "scale": {"domain": [-3.2, 83.2], "nice": false, "zero": false}},
                   "color": {"field": "s", "type": "nominal", "scale": {"domain": ["PDM", "CHI", "CRA"], "range": ["#ff0000", "#000000", "#0000ff"]}, "legend": {"title": null, "legendX": 37, "legendY": 249}}}}
    ]
   },
   {
    "width": 531, "height": 316,
    "title": {"text": "CO", "dx": -106.5, "offset": 44},
    "layer": [
     {"data": {"name": "per"}, "mark": {"type": "rule", "strokeDash": [4, 3], "color": "#000", "strokeWidth": 1},
      "encoding": {"x": {"field": "h", "type": "quantitative", "title": "Hour", "scale": {"domain": [-1, 25], "nice": false, "zero": false}, "axis": {"values": [0,2,4,6,8,10,12,14,16,18,20,22,24], "labelExpr": "'' + (datum.value % 24)"}}}},
     {"data": {"name": "lab"}, "mark": {"type": "text"},
      "encoding": {"x": {"field": "h", "type": "quantitative", "title": "Hour", "scale": {"domain": [-1, 25], "nice": false, "zero": false}},
                   "y": {"datum": 159, "type": "quantitative", "title": "CO (ppb)", "scale": {"domain": [55.2, 184.8], "nice": false, "zero": false}},
                   "text": {"field": "t"}}},
     {"data": {"values": [{}]}, "mark": {"type": "rule", "color": "#000", "strokeWidth": 1},
      "encoding": {"x": {"datum": 0, "type": "quantitative", "title": "Hour", "scale": {"domain": [-1, 25], "nice": false, "zero": false}}, "x2": {"datum": 24},
                   "y": {"datum": 55.2, "type": "quantitative", "title": "CO (ppb)", "scale": {"domain": [55.2, 184.8], "nice": false, "zero": false}}}},
     {"data": {"values": [{}]}, "mark": {"type": "rule", "color": "#000", "strokeWidth": 1},
      "encoding": {"x": {"datum": -1, "type": "quantitative", "title": "Hour", "scale": {"domain": [-1, 25], "nice": false, "zero": false}},
                   "y": {"datum": 60, "type": "quantitative", "title": "CO (ppb)", "scale": {"domain": [55.2, 184.8], "nice": false, "zero": false}}, "y2": {"datum": 180}}},
     {"data": {"name": "co"}, "transform": [{"fold": ["PDM", "CHI", "CRA"], "as": ["s", "v"]}],
      "mark": {"type": "line", "strokeWidth": 1.4, "clip": true},
      "encoding": {"x": {"field": "h", "type": "quantitative", "title": "Hour", "scale": {"domain": [-1, 25], "nice": false, "zero": false}},
                   "y": {"field": "v", "type": "quantitative", "title": "CO (ppb)", "scale": {"domain": [55.2, 184.8], "nice": false, "zero": false}, "axis": {"values": [60, 80, 100, 120, 140, 160, 180]}},
                   "color": {"field": "s", "type": "nominal", "scale": {"domain": ["PDM", "CHI", "CRA"], "range": ["#ff0000", "#000000", "#0000ff"]}, "legend": {"title": null, "legendX": 37, "legendY": 102}}}},
     {"data": {"name": "co"}, "transform": [{"fold": ["PDM", "CHI", "CRA"], "as": ["s", "v"]}],
      "mark": {"type": "point", "filled": true, "size": 22, "opacity": 1, "clip": true},
      "encoding": {"x": {"field": "h", "type": "quantitative", "title": "Hour", "scale": {"domain": [-1, 25], "nice": false, "zero": false}},
                   "y": {"field": "v", "type": "quantitative", "title": "CO (ppb)", "scale": {"domain": [55.2, 184.8], "nice": false, "zero": false}},
                   "color": {"field": "s", "type": "nominal", "scale": {"domain": ["PDM", "CHI", "CRA"], "range": ["#ff0000", "#000000", "#0000ff"]}, "legend": {"title": null, "legendX": 37, "legendY": 102}}}}
    ]
   }
  ]
 },
 {
  "bounds": "flush", "spacing": 65,
  "resolve": {"scale": {"x": "independent", "y": "independent", "color": "independent"}, "legend": {"color": "independent"}},
  "hconcat": [
   {
    "width": 531, "height": 316,
    "title": {"text": "RV", "dx": 27, "offset": 45},
    "layer": [
     {"data": {"name": "per"}, "mark": {"type": "rule", "strokeDash": [4, 3], "color": "#000", "strokeWidth": 1},
      "encoding": {"x": {"field": "h", "type": "quantitative", "title": "Hour", "scale": {"domain": [-1, 25], "nice": false, "zero": false}, "axis": {"values": [0,2,4,6,8,10,12,14,16,18,20,22,24], "labelExpr": "'' + (datum.value % 24)"}}}},
     {"data": {"name": "lab"}, "mark": {"type": "text"},
      "encoding": {"x": {"field": "h", "type": "quantitative", "title": "Hour", "scale": {"domain": [-1, 25], "nice": false, "zero": false}},
                   "y": {"datum": 4.975, "type": "quantitative", "title": "Specific humidity (g/kg)", "scale": {"domain": [4.8, 10.2], "nice": false, "zero": false}},
                   "text": {"field": "t"}}},
     {"data": {"values": [{}]}, "mark": {"type": "rule", "color": "#000", "strokeWidth": 1},
      "encoding": {"x": {"datum": 0, "type": "quantitative", "title": "Hour", "scale": {"domain": [-1, 25], "nice": false, "zero": false}}, "x2": {"datum": 24},
                   "y": {"datum": 4.8, "type": "quantitative", "title": "Specific humidity (g/kg)", "scale": {"domain": [4.8, 10.2], "nice": false, "zero": false}}}},
     {"data": {"values": [{}]}, "mark": {"type": "rule", "color": "#000", "strokeWidth": 1},
      "encoding": {"x": {"datum": -1, "type": "quantitative", "title": "Hour", "scale": {"domain": [-1, 25], "nice": false, "zero": false}},
                   "y": {"datum": 5, "type": "quantitative", "title": "Specific humidity (g/kg)", "scale": {"domain": [4.8, 10.2], "nice": false, "zero": false}}, "y2": {"datum": 10}}},
     {"data": {"name": "rv"}, "transform": [{"fold": ["PDM"], "as": ["s", "v"]}],
      "mark": {"type": "line", "strokeWidth": 1.4, "clip": true},
      "encoding": {"x": {"field": "h", "type": "quantitative", "title": "Hour", "scale": {"domain": [-1, 25], "nice": false, "zero": false}},
                   "y": {"field": "v", "type": "quantitative", "title": "Specific humidity (g/kg)", "scale": {"domain": [4.8, 10.2], "nice": false, "zero": false}, "axis": {"values": [5, 6, 7, 8, 9, 10], "format": "d"}},
                   "color": {"field": "s", "type": "nominal", "scale": {"domain": ["PDM"], "range": ["#ff0000"]}, "legend": {"title": null, "legendX": 37, "legendY": 47}}}},
     {"data": {"name": "rv"}, "transform": [{"fold": ["PDM"], "as": ["s", "v"]}],
      "mark": {"type": "point", "filled": true, "size": 22, "opacity": 1, "clip": true},
      "encoding": {"x": {"field": "h", "type": "quantitative", "title": "Hour", "scale": {"domain": [-1, 25], "nice": false, "zero": false}},
                   "y": {"field": "v", "type": "quantitative", "title": "Specific humidity (g/kg)", "scale": {"domain": [4.8, 10.2], "nice": false, "zero": false}},
                   "color": {"field": "s", "type": "nominal", "scale": {"domain": ["PDM"], "range": ["#ff0000"]}, "legend": {"title": null, "legendX": 37, "legendY": 47}}}}
    ]
   },
   {
    "width": 531, "height": 316,
    "title": {"text": "PART", "dx": -106.5, "offset": 45},
    "layer": [
     {"data": {"name": "per"}, "mark": {"type": "rule", "strokeDash": [4, 3], "color": "#000", "strokeWidth": 1},
      "encoding": {"x": {"field": "h", "type": "quantitative", "title": "Hour", "scale": {"domain": [-1, 25], "nice": false, "zero": false}, "axis": {"values": [0,2,4,6,8,10,12,14,16,18,20,22,24], "labelExpr": "'' + (datum.value % 24)"}}}},
     {"data": {"name": "lab"}, "mark": {"type": "text"},
      "encoding": {"x": {"field": "h", "type": "quantitative", "title": "Hour", "scale": {"domain": [-1, 25], "nice": false, "zero": false}},
                   "y": {"datum": 17400, "type": "quantitative", "title": "Number of particules", "scale": {"domain": [-800, 20800], "nice": false, "zero": false}},
                   "text": {"field": "t"}}},
     {"data": {"values": [{}]}, "mark": {"type": "rule", "color": "#000", "strokeWidth": 1},
      "encoding": {"x": {"datum": 0, "type": "quantitative", "title": "Hour", "scale": {"domain": [-1, 25], "nice": false, "zero": false}}, "x2": {"datum": 24},
                   "y": {"datum": -800, "type": "quantitative", "title": "Number of particules", "scale": {"domain": [-800, 20800], "nice": false, "zero": false}}}},
     {"data": {"values": [{}]}, "mark": {"type": "rule", "color": "#000", "strokeWidth": 1},
      "encoding": {"x": {"datum": -1, "type": "quantitative", "title": "Hour", "scale": {"domain": [-1, 25], "nice": false, "zero": false}},
                   "y": {"datum": 0, "type": "quantitative", "title": "Number of particules", "scale": {"domain": [-800, 20800], "nice": false, "zero": false}}, "y2": {"datum": 20000}}},
     {"data": {"name": "part"}, "transform": [{"fold": ["PDM", "CRA"], "as": ["s", "v"]}],
      "mark": {"type": "line", "strokeWidth": 1.4, "clip": true},
      "encoding": {"x": {"field": "h", "type": "quantitative", "title": "Hour", "scale": {"domain": [-1, 25], "nice": false, "zero": false}},
                   "y": {"field": "v", "type": "quantitative", "title": "Number of particules", "scale": {"domain": [-800, 20800], "nice": false, "zero": false}, "axis": {"values": [0, 5000, 10000, 15000, 20000], "format": "d"}},
                   "color": {"field": "s", "type": "nominal", "scale": {"domain": ["PDM", "CHI", "CRA"], "range": ["#ff0000", "#000000", "#0000ff"]}, "legend": {"title": null, "legendX": 37, "legendY": 176}}}},
     {"data": {"name": "part"}, "transform": [{"fold": ["PDM", "CRA"], "as": ["s", "v"]}],
      "mark": {"type": "point", "filled": true, "size": 22, "opacity": 1, "clip": true},
      "encoding": {"x": {"field": "h", "type": "quantitative", "title": "Hour", "scale": {"domain": [-1, 25], "nice": false, "zero": false}},
                   "y": {"field": "v", "type": "quantitative", "title": "Number of particules", "scale": {"domain": [-800, 20800], "nice": false, "zero": false}},
                   "color": {"field": "s", "type": "nominal", "scale": {"domain": ["PDM", "CHI", "CRA"], "range": ["#ff0000", "#000000", "#0000ff"]}, "legend": {"title": null, "legendX": 37, "legendY": 176}}}}
    ]
   }
  ]
 },
 {
  "width": 531, "height": 316,
  "title": {"text": "DIR", "dx": -29.5, "offset": 47.5},
  "layer": [
   {"data": {"name": "per"}, "mark": {"type": "rule", "strokeDash": [4, 3], "color": "#000", "strokeWidth": 1},
    "encoding": {"x": {"field": "h", "type": "quantitative", "title": "Hour", "scale": {"domain": [-1, 25], "nice": false, "zero": false}, "axis": {"values": [0,2,4,6,8,10,12,14,16,18,20,22,24], "labelExpr": "'' + (datum.value % 24)"}}}},
   {"data": {"name": "lab"}, "mark": {"type": "text"},
    "encoding": {"x": {"field": "h", "type": "quantitative", "title": "Hour", "scale": {"domain": [-1, 25], "nice": false, "zero": false}},
                 "y": {"datum": 0, "type": "quantitative", "title": "Wind direction (deg)", "scale": {"domain": [-14.6, 378.6], "nice": false, "zero": false}},
                 "text": {"field": "t"}}},
   {"data": {"values": [{}]}, "mark": {"type": "rule", "color": "#000", "strokeWidth": 1},
    "encoding": {"x": {"datum": 0, "type": "quantitative", "title": "Hour", "scale": {"domain": [-1, 25], "nice": false, "zero": false}}, "x2": {"datum": 24},
                 "y": {"datum": -14.6, "type": "quantitative", "title": "Wind direction (deg)", "scale": {"domain": [-14.6, 378.6], "nice": false, "zero": false}}}},
   {"data": {"values": [{}]}, "mark": {"type": "rule", "color": "#000", "strokeWidth": 1},
    "encoding": {"x": {"datum": -1, "type": "quantitative", "title": "Hour", "scale": {"domain": [-1, 25], "nice": false, "zero": false}},
                 "y": {"datum": 0, "type": "quantitative", "title": "Wind direction (deg)", "scale": {"domain": [-14.6, 378.6], "nice": false, "zero": false}}, "y2": {"datum": 350}}},
   {"data": {"name": "dir"}, "transform": [{"filter": "datum.h > 99"}],
    "mark": {"type": "line", "strokeWidth": 1.4, "clip": true},
    "encoding": {"x": {"field": "h", "type": "quantitative", "title": "Hour", "scale": {"domain": [-1, 25], "nice": false, "zero": false}},
                 "y": {"field": "d", "type": "quantitative", "title": "Wind direction (deg)", "scale": {"domain": [-14.6, 378.6], "nice": false, "zero": false}},
                 "color": {"field": "s", "type": "nominal", "scale": {"domain": ["PDM", "CHI", "CRA"], "range": ["#ff0000", "#000000", "#0000ff"]}, "legend": {"title": null, "legendX": 37, "legendY": 247}}}},
   {"data": {"name": "dir"},
    "mark": {"type": "point", "filled": true, "opacity": 1, "clip": true},
    "encoding": {"x": {"field": "h", "type": "quantitative", "title": "Hour", "scale": {"domain": [-1, 25], "nice": false, "zero": false}},
                 "y": {"field": "d", "type": "quantitative", "title": "Wind direction (deg)", "scale": {"domain": [-14.6, 378.6], "nice": false, "zero": false}, "axis": {"values": [0, 50, 100, 150, 200, 250, 300, 350]}},
                 "color": {"field": "s", "type": "nominal", "scale": {"domain": ["PDM", "CHI", "CRA"], "range": ["#ff0000", "#000000", "#0000ff"]}, "legend": {"title": null, "legendX": 37, "legendY": 247}},
                 "size": {"field": "w", "type": "quantitative", "scale": {"type": "pow", "exponent": 2, "domain": [0, 10], "range": [7, 190], "zero": false},
                          "legend": {"title": null, "values": [1, 5, 10], "labelExpr": "datum.label + ' m/s'", "symbolType": "circle", "symbolFillColor": "#000", "symbolStrokeColor": "#000", "symbolStrokeWidth": 0, "legendX": 422, "legendY": 255.75, "rowPadding": 5.5, "labelOffset": 19}}}}
  ]
 }
]
}
